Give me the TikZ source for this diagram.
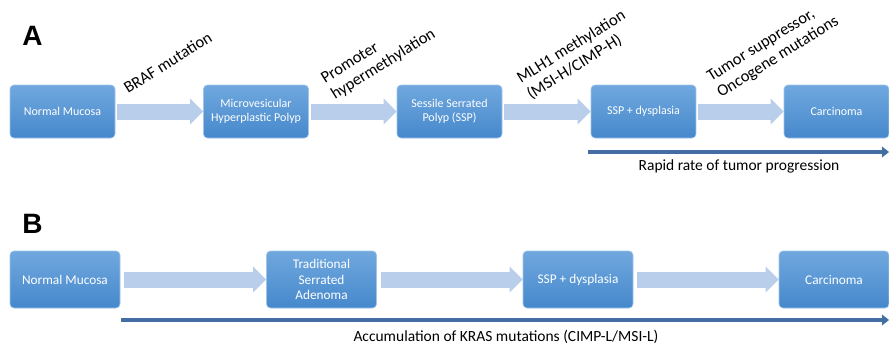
\documentclass[tikz,border=0pt]{standalone}
\usepackage{fontspec}
\setmainfont{Carlito}
\newfontfamily\panelfont{Liberation Sans}
\usetikzlibrary{arrows.meta,positioning}
\definecolor{boxtop}{RGB}{112,168,222}
\definecolor{boxbot}{RGB}{70,136,204}
\definecolor{boxline}{RGB}{160,196,234}
\definecolor{flowfill}{RGB}{184,206,235}
\definecolor{spanblue}{RGB}{66,110,164}
\tikzset{stage/.style={rounded corners=4pt, top color=boxtop, bottom color=boxbot,
    draw=boxline, line width=0.6pt, text=white, align=center,
    font=\fontsize{12}{14}\selectfont, minimum width=105pt, minimum height=53pt,
    inner sep=1pt},
  stageB/.style={stage, minimum width=110pt, minimum height=57pt,
    font=\fontsize{13.3}{15.5}\selectfont},
  flow/.style={draw=flowfill, line width=16pt,
    -{Triangle[length=13pt,width=26pt,line width=0pt]}},
  hit/.style={rotate=32, anchor=base west, inner sep=0pt,
    font=\fontsize{16.5}{19}\selectfont},
  span/.style={draw=spanblue, line width=4.5pt,
    -{Triangle[length=7pt,width=11pt,line width=0pt]}},
  spantext/.style={font=\fontsize{15.5}{18}\selectfont, inner sep=0pt, anchor=base},
  panel/.style={font=\panelfont\bfseries\fontsize{28}{30}\selectfont, inner sep=0pt,
    anchor=base}
}

\begin{document}
\begin{tikzpicture}[x=1pt, y=-1pt]
    \useasboundingbox (0,0) rectangle (889,343);
    % panel A
    \node[panel] (lblA) at (32.5,45) {A};
    \node[stage] (nmA) at (62.5,111.5) {Normal Mucosa};
    \node[stage] (mhp) at (256,111.5) {Microvesicular\\Hyperplastic Polyp};
    \node[stage] (sspA) at (449.5,111.5) {Sessile Serrated\\Polyp (SSP)};
    \node[stage] (dysA) at (643.5,111.5) {SSP + dysplasia};
    \node[stage] (carA) at (836.5,111.5) {Carcinoma};
    \draw[flow, shorten <=2pt] (nmA) -- (mhp);
    \draw[flow, shorten <=2pt] (mhp) -- (sspA);
    \draw[flow, shorten <=2pt] (sspA) -- (dysA);
    \draw[flow, shorten <=2pt] (dysA) -- (carA);
    \node[hit] (braf) at (128,94) {BRAF mutation};
    \node[hit] (prom1) at (325,84) {Promoter};
    \node[hit] (prom2) at (335,100) {hypermethylation};
    \node[hit] (mlh1) at (521,84) {MLH1 methylation};
    \node[hit] (mlh2) at (531,100) {(MSI-H/CIMP-H)};
    \node[hit] (tsg1) at (711,82) {Tumor suppressor,};
    \node[hit] (tsg2) at (721,98) {Oncogene mutations};
    \coordinate (rapidS) at (588,152);
    \coordinate (rapidE) at (889,152);
    \draw[span] (rapidS) -- (rapidE);
    \node[spantext] (rapid) at (739,170) {Rapid rate of tumor progression};
    % panel B
    \node[panel] (lblB) at (32.5,233) {B};
    \node[stageB] (nmB) at (65,279.5) {Normal Mucosa};
    \node[stageB] (tsa) at (321.5,279.5) {Traditional\\Serrated\\Adenoma};
    \node[stageB] (dysB) at (578,279.5) {SSP + dysplasia};
    \node[stageB] (carB) at (834,279.5) {Carcinoma};
    \draw[flow, shorten <=4pt] (nmB) -- (tsa);
    \draw[flow, shorten <=4pt] (tsa) -- (dysB);
    \draw[flow, shorten <=4pt] (dysB) -- (carB);
    \coordinate (accS) at (121,320);
    \coordinate (accE) at (889,320);
    \draw[span] (accS) -- (accE);
    \node[spantext] (accum) at (506,341) {Accumulation of KRAS mutations (CIMP-L/MSI-L)};
\end{tikzpicture}
\end{document}
